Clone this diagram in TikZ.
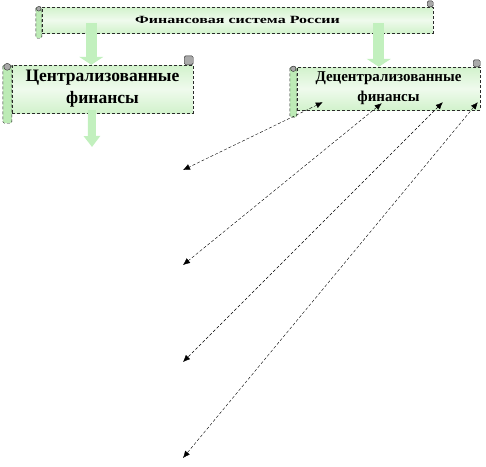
\documentclass[tikz,border=0pt]{standalone}
\usepackage{graphicx}
\usepackage{fontspec}
\setmainfont{Liberation Serif}
\usetikzlibrary{arrows.meta,calc}
\definecolor{paper}{HTML}{D2F2CC}
\definecolor{roll}{HTML}{BDEBB6}
\definecolor{block}{HTML}{C2F0BE}
\definecolor{curl}{HTML}{A9A9A9}
\definecolor{edge}{HTML}{2A2A2A}

% rolled ends of a scroll: #1 node, #2 roll width, #3 drop below the body
\newcommand\scrollends[3]{%
 \draw[edge,fill=roll,densely dashed,rounded corners=1.5pt] ($(#1.north west)+(-#2,0)$) rectangle ($(#1.south west)+(0,#3)$);
 \draw[edge,fill=curl] ($(#1.north west)+(-#2/2,2)$) circle (#2/2.6);
 \draw[edge,fill=curl,rounded corners=1.5pt] ($(#1.north east)+(-#2,-#2)$) rectangle (#1.north east);
}

\begin{document}
\begin{tikzpicture}[x=1pt,y=-1pt,scroll/.style={draw=edge,densely dashed,top color=paper,bottom color=paper,middle color=paper!35,inner sep=0pt,align=center,font=\bfseries},blockarr/.style={line width=11pt,block,-{Triangle[length=8pt,width=24pt,fill=block,color=block]}},link/.style={densely dashed,thin,{Latex[length=7pt,width=6pt]}-{Latex[length=7pt,width=6pt]}}]
 \useasboundingbox (0,0) rectangle (486,466);
 \node[scroll,minimum width=391pt,minimum height=26pt] (fin) at (237.5,20) {\scalebox{1.6}[1.1]{\fontsize{10}{11}\selectfont Финансовая система России}};
 \scrollends{fin}{6}{5}
 \node[scroll,minimum width=181pt,minimum height=48pt,font=\bfseries\fontsize{17.5}{22}\selectfont] (cent) at (102.5,89) {Централизованные\\финансы};
 \scrollends{cent}{9}{10}
 \node[scroll,minimum width=183pt,minimum height=43pt,font=\bfseries\fontsize{15}{20}\selectfont] (dec) at (388.5,88.5) {Децентрализованные\\финансы};
 \scrollends{dec}{7}{7}
 \draw[blockarr] ($(fin.south west)+(49.5,-10)$) -- ($(cent.north west)+(79.5,0)$);
 \draw[blockarr] ($(fin.south west)+(337,-10)$) -- ($(dec.north west)+(82,0)$);
 \coordinate (down) at (92,147);
 \draw[blockarr,line width=8pt,-{Triangle[length=11pt,width=16pt,fill=block,color=block]}] ($(cent.south west)+(80,-3)$) -- (down);
 \coordinate (t1) at (183,170);
 \coordinate (t2) at (183,265);
 \coordinate (t3) at (183,362);
 \coordinate (t4) at (183,458);
 \draw[link] ($(dec.south west)+(26,-8)$) -- (t1);
 \draw[link] ($(dec.south west)+(85,-7)$) -- (t2);
 \draw[link] ($(dec.south west)+(146,-8)$) -- (t3);
 \draw[link] ($(dec.south west)+(181,-8)$) -- (t4);
\end{tikzpicture}
\end{document}
